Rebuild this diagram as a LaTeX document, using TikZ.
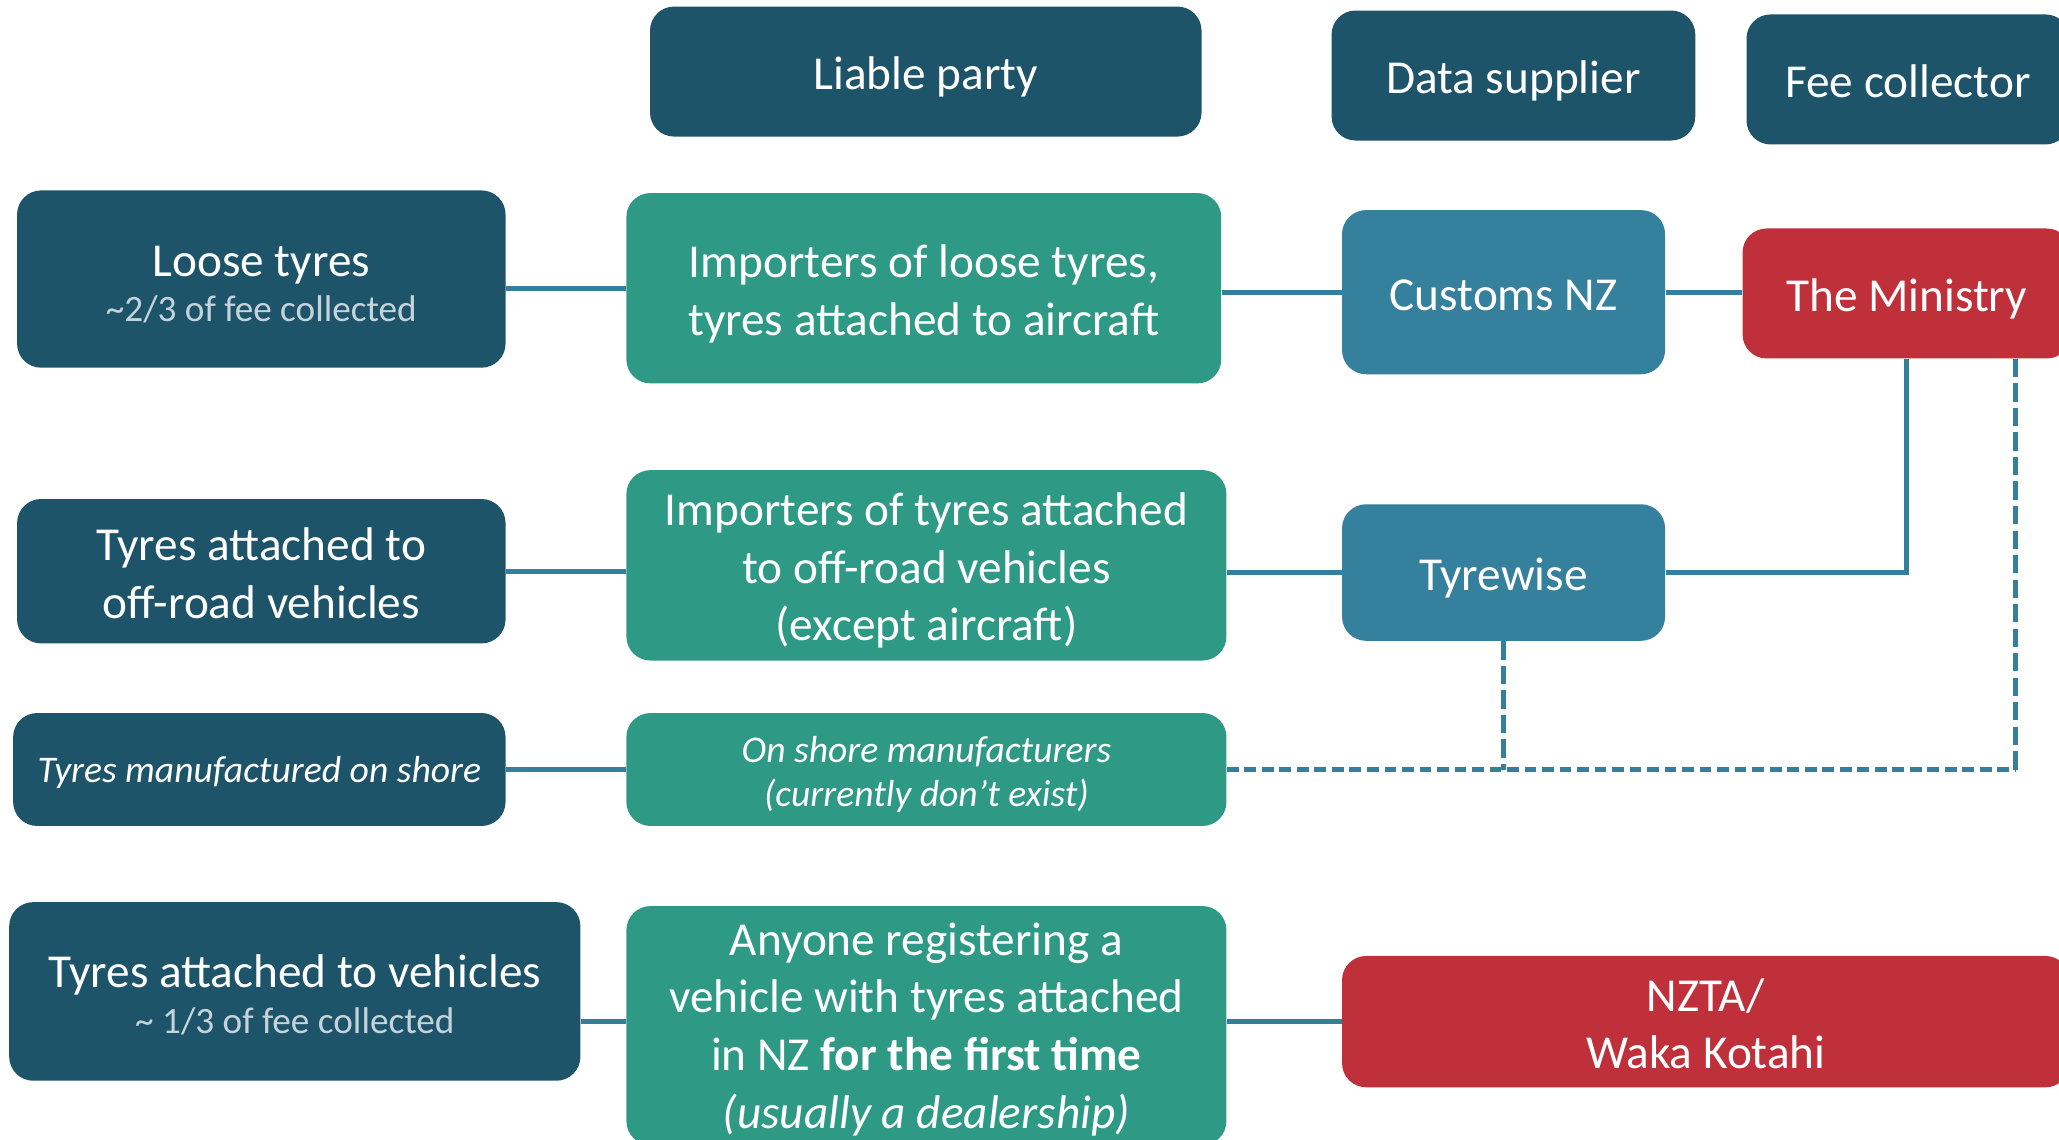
\documentclass[tikz,border=0pt]{standalone}
\usepackage{fontspec}
\setmainfont{Carlito}
\usetikzlibrary{calc}
\definecolor{darkbox}{HTML}{1D5469}
\definecolor{tealbox}{HTML}{2E9A85}
\definecolor{steelbox}{HTML}{35809C}
\definecolor{redbox}{HTML}{C0303A}
\definecolor{linecol}{HTML}{34809C}
\definecolor{subgrey}{HTML}{C5D3DA}
\tikzset{
  box/.style={rounded corners=11pt, draw=none, text=white, align=center, inner sep=2pt,
    font=\fontsize{21.6}{26.4}\selectfont, text depth=0pt, text height=16.8pt},
  smallit/.style={font=\fontsize{17.2}{20.4}\selectfont\itshape},
  darkb/.style={box, fill=darkbox},
  tealb/.style={box, fill=tealbox},
  steelb/.style={box, fill=steelbox},
  redb/.style={box, fill=redbox},
  conn/.style={draw=linecol, line width=2.4pt},
  hdash/.style={conn, dash pattern=on 5.4pt off 2.6pt},
  vdash/.style={conn, dash pattern=on 8.4pt off 2.8pt},
}
\newcommand{\subtxt}[1]{{\fontsize{17}{19}\selectfont\color{subgrey}#1}}
\begin{document}
\begin{tikzpicture}[x=0.6pt,y=-0.6pt]
\useasboundingbox[fill=white] (0,0) rectangle (1568,868);
% headers
\node[darkb, minimum width=252pt, minimum height=59.4pt] (liable) at (705,54.5) {Liable party};
\node[darkb, minimum width=166.2pt, minimum height=59.4pt] (datasup) at (1152.5,57.5) {Data supplier};
\node[darkb, minimum width=147.6pt, minimum height=59.4pt] (feecol) at (1453,60.5) {Fee collector};
% row 1
\node[darkb, minimum width=223.2pt, minimum height=81pt, text height=39.2pt] (loose) at (199,212.5) {Loose tyres\\[-5.5pt]\subtxt{\textasciitilde2/3 of fee collected}};
\node[tealb, minimum width=271.8pt, minimum height=87pt, text height=43pt] (imp1) at (703.5,219.5) {Importers of loose tyres,\\tyres attached to aircraft};
\node[steelb, minimum width=147.6pt, minimum height=75pt] (customs) at (1145,222.5) {Customs NZ};
\node[redb, minimum width=150pt, minimum height=59.4pt] (ministry) at (1452,223.5) {The Ministry};
% row 2
\node[darkb, minimum width=223.2pt, minimum height=66pt, text height=43.2pt] (offroad) at (199,435) {Tyres attached to\\off-road vehicles};
\node[tealb, minimum width=274.2pt, minimum height=87pt, text height=69pt] (imp2) at (705.5,430.5) {Importers of tyres attached\\to off-road vehicles\\(except aircraft)};
\node[steelb, minimum width=147.6pt, minimum height=62.4pt] (tyrewise) at (1145,436) {Tyrewise};
% row 3
\node[darkb, smallit, minimum width=225pt, minimum height=51.6pt, text height=12pt] (manuf) at (197.5,586) {Tyres manufactured on shore};
\node[tealb, smallit, minimum width=274.2pt, minimum height=51.6pt, text height=34pt] (onshore) at (705.5,586) {On shore manufacturers\\(currently don’t exist)};
% row 4
\node[darkb, minimum width=261pt, minimum height=81.6pt, text height=38.4pt] (vehicles) at (224.5,755) {Tyres attached to vehicles\\[-5.5pt]\subtxt{\textasciitilde{} 1/3 of fee collected}};
\node[tealb, minimum width=274.2pt, minimum height=109.2pt, text height=94pt] (anyone) at (705.5,781) {Anyone registering a\\vehicle with tyres attached\\in NZ \textbf{for the first time}\\\textit{(usually a dealership)}};
\node[redb, minimum width=332.4pt, minimum height=60pt, text height=43.2pt] (nzta) at (1299,778) {NZTA/\\Waka Kotahi};
% connectors
\draw[conn] (loose.east |- imp1.west) -- (imp1.west);
\draw[conn] (imp1.east |- customs.west) -- (customs.west);
\draw[conn] (customs.east) -- (customs.east -| ministry.west);
\draw[conn] (offroad.east) -- (offroad.east -| imp2.west);
\draw[conn] (tyrewise.west -| imp2.east) -- (tyrewise.west);
\draw[conn] (tyrewise.east) -| (ministry.south);
\draw[conn] (manuf.east) -- (onshore.west);
\draw[conn] (vehicles.east |- nzta.west) -- (anyone.west |- nzta.west);
\draw[conn] (anyone.east |- nzta.west) -- (nzta.west);
\coordinate (dashcorner) at (1535,586);
\draw[hdash] (onshore.east) -- (dashcorner);
\draw[vdash] (dashcorner) -- (dashcorner |- ministry.south);
\draw[vdash] (tyrewise.south) -- (tyrewise.south |- onshore.east);
\end{tikzpicture}
\end{document}
